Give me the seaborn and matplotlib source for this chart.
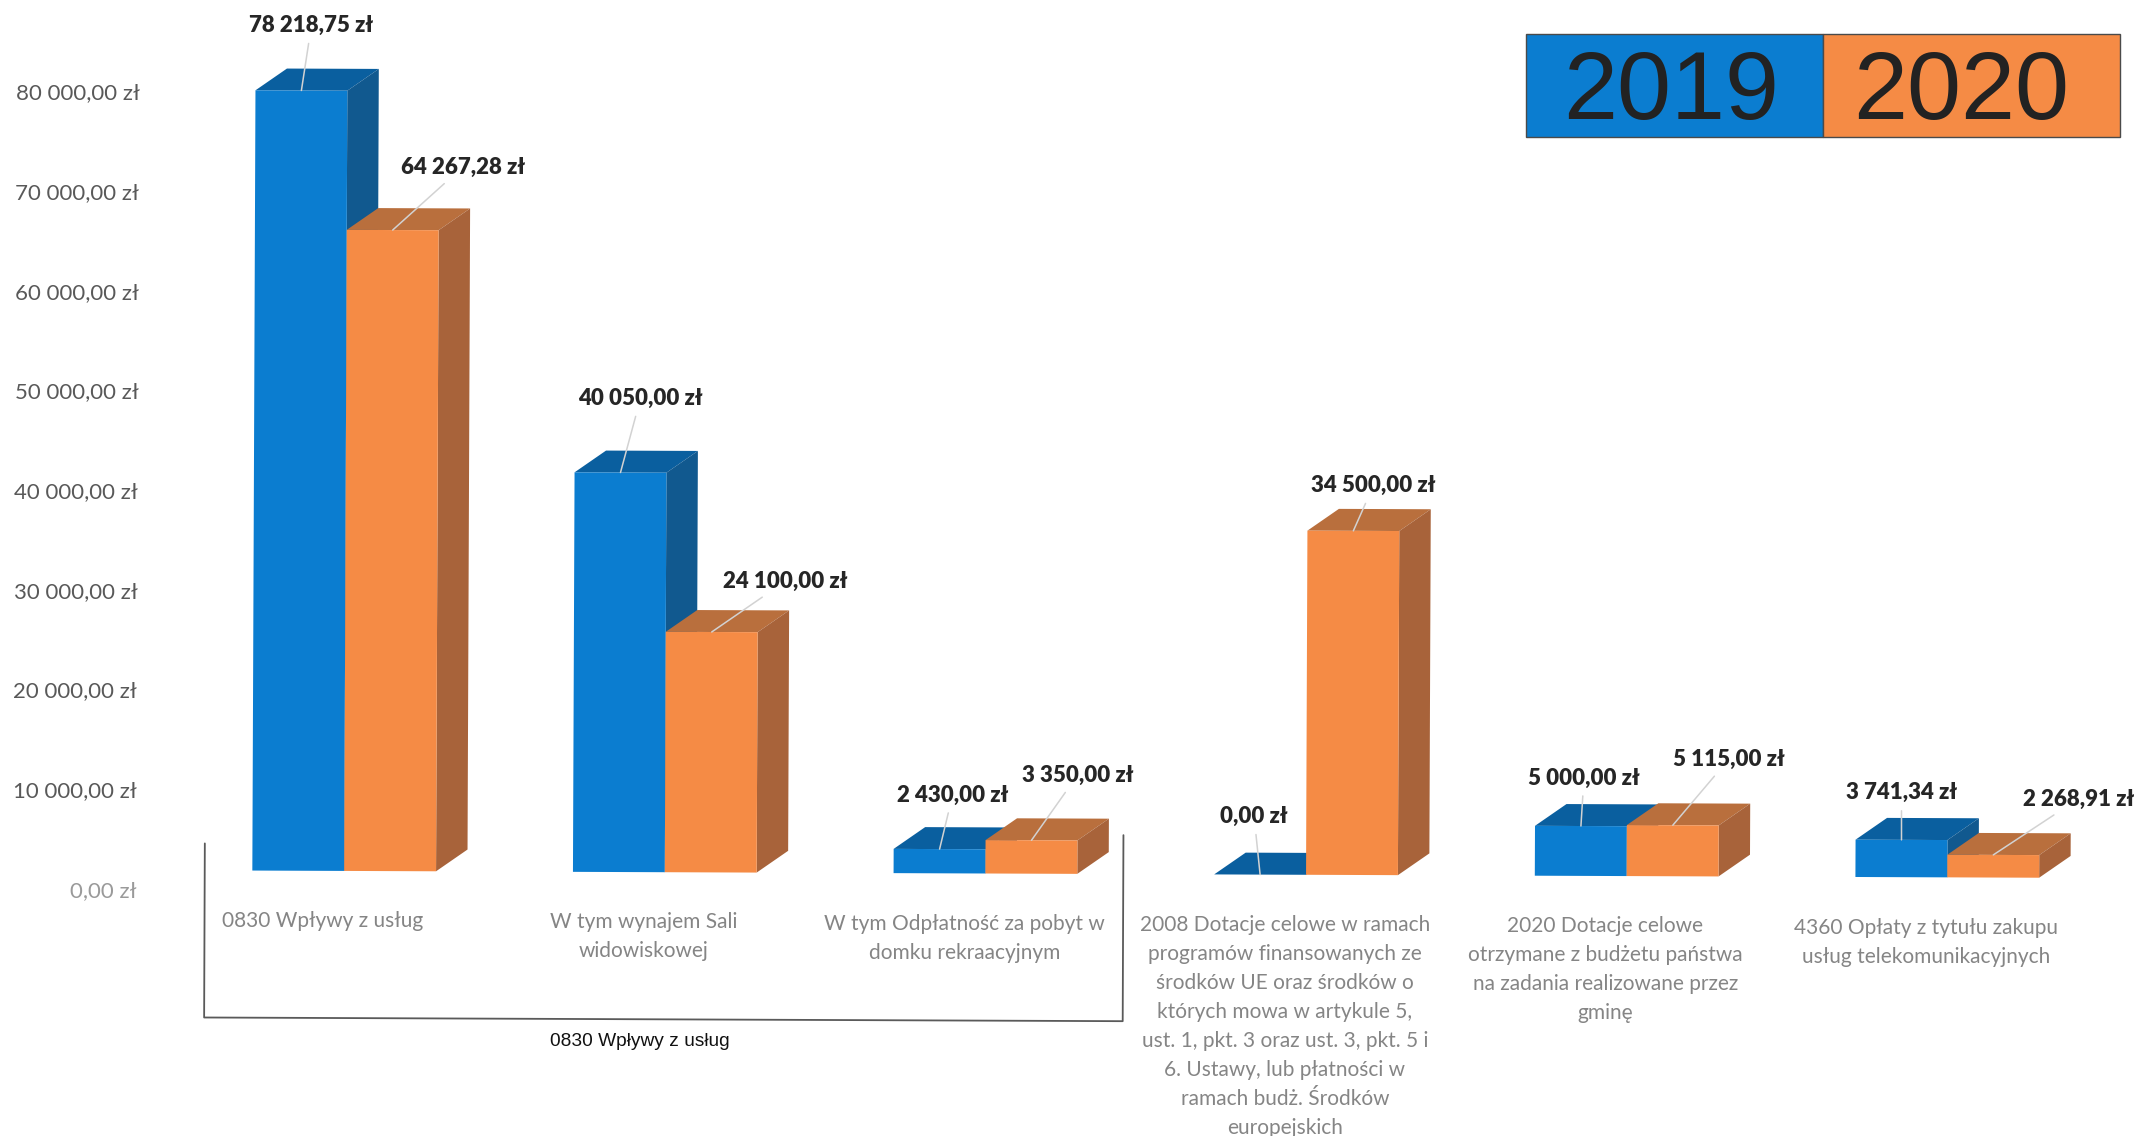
import pandas as pd
import seaborn as sns
import matplotlib.pyplot as plt
from matplotlib.patches import Polygon, Rectangle
from matplotlib.transforms import Affine2D

# dane
kategorie = [
    '0830 Wpływy z usług',
    'W tym wynajem Sali\nwidowiskowej',
    'W tym Odpłatność za pobyt w\ndomku rekraacyjnym',
    '2008 Dotacje celowe w ramach\nprogramów finansowanych ze\nśrodków UE oraz środków o\nktórych mowa w artykule 5,\nust. 1, pkt. 3 oraz ust. 3, pkt. 5 i\n6. Ustawy, lub płatności w\nramach budż. Środków\neuropejskich',
    '2020 Dotacje celowe\notrzymane z budżetu państwa\nna zadania realizowane przez\ngminę',
    '4360 Opłaty z tytułu zakupu\nusług telekomunikacyjnych',
]
kwoty_2019 = [78218.75, 40050.00, 2430.00, 0.00, 5000.00, 3741.34]
kwoty_2020 = [64267.28, 24100.00, 3350.00, 34500.00, 5115.00, 2268.91]
etykiety_2019 = ['78 218,75 zł', '40 050,00 zł', '2 430,00 zł', '0,00 zł', '5 000,00 zł', '3 741,34 zł']
etykiety_2020 = ['64 267,28 zł', '24 100,00 zł', '3 350,00 zł', '34 500,00 zł', '5 115,00 zł', '2 268,91 zł']
lata = ['2019', '2020']
os_y = [0, 10000, 20000, 30000, 40000, 50000, 60000, 70000, 80000]
os_y_opisy = ['0,00 zł', '10 000,00 zł', '20 000,00 zł', '30 000,00 zł', '40 000,00 zł',
              '50 000,00 zł', '60 000,00 zł', '70 000,00 zł', '80 000,00 zł']
podpis_grupy = '0830 Wpływy z usług'

# przesuniecia etykiet wzgledem gornej krawedzi slupka, w px
przes_2019 = [(10, 65), (20, 74), (13, 54), (-6, 58), (3, 48), (0, 47)]
przes_2020 = [(70, 63), (74, 51), (46, 65), (20, 45), (56, 66), (85, 56)]

df = pd.DataFrame({
    'kategoria': kategorie * 2,
    'kwota': kwoty_2019 + kwoty_2020,
    'rok': [lata[0]] * 6 + [lata[1]] * 6,
})

kolory = {'front': ['#0b7dd0', '#f58b45'], 'top': ['#0a5f9f', '#b96f3d'], 'side': ['#11598f', '#a8633a']}

sns.set_theme(style='white')
plt.rcParams['font.family'] = ['Lato', 'DejaVu Sans']

W, H = 2142, 1136
fig = plt.figure(figsize=(W / 100, H / 100), dpi=100, facecolor='white')
# os y=0 lezy ok. 873 px od gory, 10 000 zl to ok. 100 px
ax = fig.add_axes([142 / W, (H - 873.5) / H, (2131 - 142) / W, 798 / H])
sns.barplot(data=df, x='kategoria', y='kwota', hue='rok', order=kategorie, hue_order=lata,
            palette=kolory['front'], saturation=1, width=0.573, gap=0, dodge=True, legend=False,
            edgecolor='none', linewidth=0, ax=ax)
ax.set_xlim(-0.6306, 5.573)
ax.set_ylim(0, 80000)
ax.set_xlabel('')
ax.set_ylabel('')
sns.despine(ax=ax, left=True, bottom=True)
ax.patch.set_alpha(0)

# skan jest lekko przekrecony
skan = Affine2D().rotate_deg_around(986, H - 873.5, -0.23)
tr = ax.transData + skan

# glebokosc slupkow 3D w jednostkach danych
dx = 31.4 / (234.7 * 1.366)
dy = 21.9 / (798 / 80000)

for s, cont in enumerate(ax.containers):
    etyk = [etykiety_2019, etykiety_2020][s]
    przes = [przes_2019, przes_2020][s]
    for b, tekst, (ox, oy) in zip(cont.patches, etyk, przes):
        x0, x1, h = b.get_x(), b.get_x() + b.get_width(), b.get_height()
        b.set_transform(tr)
        b.set_clip_on(False)
        b.set_zorder(3 + 2 * s)
        top = Polygon([(x0, h), (x0 + dx, h + dy), (x1 + dx, h + dy), (x1, h)], fc=kolory['top'][s], ec='none',
                      transform=tr, clip_on=False, zorder=2 + 2 * s)
        side = Polygon([(x1, 0), (x1 + dx, dy), (x1 + dx, h + dy), (x1, h)], fc=kolory['side'][s], ec='none',
                       transform=tr, clip_on=False, zorder=2 + 2 * s)
        ax.add_patch(top)
        ax.add_patch(side)
        ax.annotate(tekst, xy=((x0 + x1) / 2, h), xycoords=tr, xytext=(ox, oy), textcoords='offset pixels',
                    ha='center', va='center', fontsize=16, fontweight='heavy', color='#262626', zorder=10,
                    annotation_clip=False,
                    arrowprops=dict(arrowstyle='-', color='#d2d2d2', lw=1.1, shrinkA=3, shrinkB=0))

# opisy osi
ax.set_yticks(os_y)
ax.set_yticklabels(os_y_opisy)
ax.tick_params(axis='x', length=0, pad=29, labelsize=15, labelcolor='#858585')
ax.tick_params(axis='y', length=0, pad=4, labelsize=16, labelcolor='#595959')
przes_x = Affine2D().translate(-21, 0)
przes_y = Affine2D().translate(0, -19)
for t in ax.get_xticklabels():
    t.set_transform(t.get_transform() + przes_x + skan)
    t.set_linespacing(1.56)
for t in ax.get_yticklabels():
    t.set_transform(t.get_transform() + przes_y + skan)
ax.get_yticklabels()[0].set_color('#9a9a9a')

# klamra pod pierwszymi trzema kategoriami
kl_x0, kl_x1 = -0.435, 2.43
kl_y = -14750
ax.plot([kl_x0, kl_x0, kl_x1, kl_x1], [2700, kl_y, kl_y, 3900], color='#5a5a5a', lw=1.3, transform=tr,
        clip_on=False, zorder=1)
ax.text((kl_x0 + kl_x1) / 2 - 0.072, kl_y - 2250, podpis_grupy, transform=tr, ha='center', va='center',
        fontsize=13.8, color='#111111', family='Liberation Sans')

# legenda z latami
lx, ly, lw_, lh = 1526, H - 137, 297, 103
leg_przes = [-3, -10]
for i, rok in enumerate(lata):
    fig.add_artist(Rectangle(((lx + i * lw_) / W, ly / H), lw_ / W, lh / H, transform=fig.transFigure,
                             fc=kolory['front'][i], ec='#4a4a4a', lw=1))
    fig.text((lx + i * lw_ + lw_ / 2 + leg_przes[i]) / W, (ly + lh / 2 - 8) / H, rok, ha='center', va='center',
             fontsize=70, color='#222222', family='Liberation Sans')

fig.savefig('out.png', dpi=100, facecolor='white')
